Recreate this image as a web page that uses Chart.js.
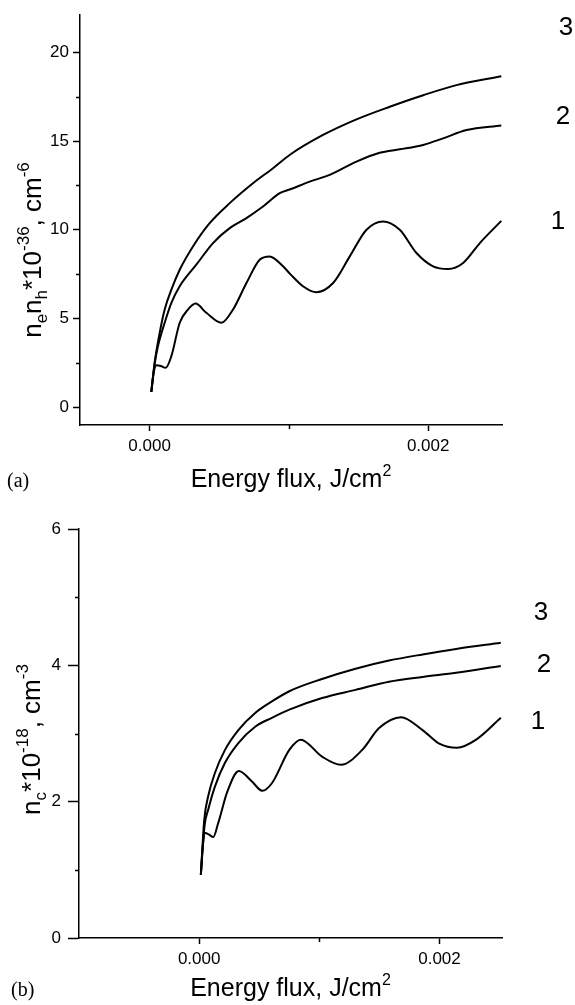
<!DOCTYPE html>
<html lang="en">
<head>
<meta charset="UTF-8">
<title>Carrier density vs energy flux</title>
<script src="https://cdn.jsdelivr.net/npm/chart.js"></script>
<style>
    body { margin: 0; background: #fff; }
    .panel { position: absolute; left: 0; width: 575px; }
    #panelA { top: 0; height: 500px; }
    #panelB { top: 500px; height: 505px; }
</style>
</head>
<body>
<div class="panel" id="panelA"><canvas id="chartA" width="575" height="500"></canvas></div>
<div class="panel" id="panelB"><canvas id="chartB" width="575" height="505"></canvas></div>
<script>
// ---- panel (a): ne*nh, 10^36 cm^-6 ----
const fluxA1 = [0.000012, 0.000030, 0.000050, 0.000080, 0.000115, 0.000156, 0.000216, 0.000276, 0.000330, 0.000407,
                0.000515, 0.000599, 0.000695, 0.000790, 0.000862, 0.000958, 0.001010, 0.001101, 0.001197, 0.001317,
                0.001437, 0.001557, 0.001676, 0.001796, 0.001916, 0.002035, 0.002143, 0.002251, 0.002371, 0.002525];
const densA1 = [0.86, 2.0, 2.36, 2.32, 2.22, 2.88, 4.76, 5.51, 5.84, 5.32,
                4.76, 5.51, 7.00, 8.31, 8.50, 7.94, 7.5, 6.82, 6.48, 7.00,
                8.50, 10.0, 10.47, 10.0, 8.69, 7.94, 7.79, 8.13, 9.25, 10.5];
const fluxA2 = [0.000012, 0.000036, 0.000060, 0.000108, 0.000156, 0.000216, 0.000335, 0.000455, 0.000575, 0.000695,
                0.000814, 0.000934, 0.001010, 0.001149, 0.001293, 0.001485, 0.001652, 0.001796, 0.001964, 0.002107,
                0.002275, 0.002525];
const densA2 = [0.86, 2.45, 3.45, 4.76, 5.88, 6.82, 8.03, 9.25, 10.09, 10.66,
                11.31, 12.06, 12.28, 12.71, 13.09, 13.84, 14.34, 14.53, 14.78, 15.15,
                15.62, 15.88];
const fluxA3 = [0.000012, 0.000036, 0.000072, 0.000108, 0.000156, 0.000216, 0.000311, 0.000431, 0.000575, 0.000742,
                0.000886, 0.001010, 0.001245, 0.001485, 0.001724, 0.001964, 0.002203, 0.002525];
const densA3 = [0.86, 2.51, 4.19, 5.51, 6.63, 7.75, 9.06, 10.37, 11.50, 12.62,
                13.47, 14.24, 15.34, 16.22, 16.93, 17.58, 18.15, 18.65];

// ---- panel (b): nc, 10^18 cm^-3 ----
const fluxB1 = [0.000014, 0.000030, 0.000050, 0.000080, 0.000117, 0.000159, 0.000235, 0.000330, 0.000437, 0.000525,
                0.000605, 0.000750, 0.000845, 0.001023, 0.001180, 0.001357, 0.001497, 0.001680, 0.001859, 0.001998,
                0.002145, 0.002305, 0.002510];
const densB1 = [0.93, 1.35, 1.54, 1.52, 1.48, 1.69, 2.15, 2.45, 2.30, 2.16,
                2.27, 2.76, 2.91, 2.66, 2.54, 2.76, 3.08, 3.24, 3.05, 2.85,
                2.79, 2.91, 3.23];
const fluxB2 = [0.000014, 0.000045, 0.000075, 0.000131, 0.000215, 0.000326, 0.000466, 0.000605, 0.000750, 0.001023,
                0.001301, 0.001580, 0.001859, 0.002138, 0.002510];
const densB2 = [0.93, 1.65, 1.88, 2.22, 2.57, 2.86, 3.10, 3.23, 3.35, 3.52,
                3.64, 3.76, 3.83, 3.89, 3.99];
const fluxB3 = [0.000014, 0.000042, 0.000075, 0.000131, 0.000215, 0.000326, 0.000466, 0.000605, 0.000750, 0.001023,
                0.001301, 0.001580, 0.001859, 0.002138, 0.002510];
const densB3 = [0.93, 1.73, 2.08, 2.42, 2.76, 3.05, 3.30, 3.47, 3.62, 3.80,
                3.95, 4.07, 4.16, 4.24, 4.33];

// ticks (major carry labels, minor are short unlabeled marks)
const fluxTicks = [0, 0.002];
const fluxTickLabels = ['0.000', '0.002'];
const fluxMinor = [0.001];
const yTicksA = [0, 5, 10, 15, 20];
const yMinorA = [2.5, 7.5, 12.5, 17.5];
const yTicksB = [0, 2, 4, 6];
const yMinorB = [1, 3, 5];

// curve numbers and where they sit (value on y axis)
const curveNames = ['1', '2', '3'];
const labelYA = [10.45, 16.35, 21.4];
const labelYB = [3.17, 4.01, 4.77];

const SANS = '"Liberation Sans", Arial, sans-serif';

function toPoints(xs, ys) {
    return xs.map((x, i) => ({ x: x, y: ys[i] }));
}

function curve(xs, ys) {
    return {
        data: toPoints(xs, ys),
        borderColor: '#000',
        borderWidth: 2,
        pointRadius: 0,
        fill: false,
        cubicInterpolationMode: 'monotone'
    };
}

// rich text: segments {t, sub, sup}
function drawRich(ctx, segs, size, x, y, angle) {
    const small = Math.round(size * 0.65);
    const fontOf = s => ((s.sub || s.sup) ? small : size) + 'px ' + SANS;
    let total = 0;
    segs.forEach(s => { ctx.font = fontOf(s); total += ctx.measureText(s.t).width; });
    ctx.save();
    ctx.translate(x, y);
    ctx.rotate(angle);
    ctx.textAlign = 'left';
    ctx.textBaseline = 'alphabetic';
    let cx = -total / 2;
    segs.forEach(s => {
        ctx.font = fontOf(s);
        const dy = s.sub ? size * 0.22 : (s.sup ? -size * 0.45 : 0);
        ctx.fillText(s.t, cx, dy);
        cx += ctx.measureText(s.t).width;
    });
    ctx.restore();
}

const annotate = {
    id: 'annotate',
    afterDraw(chart, args, o) {
        const { ctx, chartArea: a, scales } = chart;
        ctx.save();
        // minor ticks
        ctx.strokeStyle = '#000';
        ctx.lineWidth = 1.5;
        ctx.beginPath();
        o.minorX.forEach(v => {
            const px = Math.round(scales.x.getPixelForValue(v)) + 0.5;
            ctx.moveTo(px, a.bottom);
            ctx.lineTo(px, a.bottom + 4);
        });
        o.minorY.forEach(v => {
            const py = Math.round(scales.y.getPixelForValue(v)) + 0.5;
            ctx.moveTo(a.left - 4, py);
            ctx.lineTo(a.left, py);
        });
        ctx.stroke();

        ctx.fillStyle = '#000';
        drawRich(ctx, o.xTitle, 25, (a.left + a.right) / 2, a.bottom + o.xTitleGap, 0);
        drawRich(ctx, o.yTitle, 26, o.yTitleX, (a.top + a.bottom) / 2 + o.yTitleShift, -Math.PI / 2);
        ctx.font = '20px "Liberation Serif", "Times New Roman", serif';
        ctx.textAlign = 'left';
        ctx.textBaseline = 'alphabetic';
        ctx.fillText(o.tag, o.tagX, a.bottom + o.tagGap);
        ctx.font = '26px ' + SANS;
        ctx.textAlign = 'center';
        ctx.textBaseline = 'middle';
        curveNames.forEach((c, i) => {
            ctx.fillText(c, a.right + o.labelDx[i], scales.y.getPixelForValue(o.labelY[i]));
        });
        ctx.restore();
    }
};

function xAxis(min, max, height) {
    return {
        type: 'linear', min: min, max: max,
        afterBuildTicks: s => { s.ticks = fluxTicks.map(v => ({ value: v })); },
        afterFit: s => { s.height = height; },
        ticks: {
            callback: (v, i) => fluxTickLabels[i],
            font: { family: SANS, size: 17 }, color: '#000',
            padding: 5, autoSkip: false, maxRotation: 0
        },
        grid: { drawOnChartArea: false, drawTicks: true, tickLength: 6, tickColor: '#000', tickWidth: 1.5 },
        border: { color: '#000', width: 1.5 }
    };
}

function yAxis(min, max, ticks, width, tickLen, pad) {
    return {
        type: 'linear', min: min, max: max,
        afterBuildTicks: s => { s.ticks = ticks.map(v => ({ value: v })); },
        afterFit: s => { s.width = width; },
        ticks: {
            callback: v => String(v),
            font: { family: SANS, size: 17 }, color: '#000',
            padding: pad, autoSkip: false
        },
        grid: { drawOnChartArea: false, drawTicks: true, tickLength: tickLen, tickColor: '#000', tickWidth: 1.5 },
        border: { color: '#000', width: 1.5 }
    };
}

const xTitleSegs = [{ t: 'Energy flux, J/cm' }, { t: '2', sup: true }];

new Chart(document.getElementById('chartA'), {
    type: 'line',
    data: { datasets: [curve(fluxA1, densA1), curve(fluxA2, densA2), curve(fluxA3, densA3)] },
    options: {
        responsive: false,
        animation: false,
        layout: { padding: { left: 0, top: 15, right: 73, bottom: 0 } },
        scales: {
            x: xAxis(-0.0005, 0.00253, 75),
            y: yAxis(-1, 22.1, yTicksA, 80, 7, 4)
        },
        plugins: {
            legend: { display: false },
            tooltip: { enabled: false },
            annotate: {
                minorX: fluxMinor, minorY: yMinorA,
                xTitle: xTitleSegs, xTitleGap: 62,
                yTitle: [{ t: 'n' }, { t: 'e', sub: true }, { t: 'n' }, { t: 'h', sub: true }, { t: '*10' },
                         { t: '-36', sup: true }, { t: ', cm' }, { t: '-6', sup: true }],
                yTitleX: 41, yTitleShift: 30,
                tag: '(a)', tagX: 7, tagGap: 62,
                labelY: labelYA, labelDx: [56, 61, 64]
            }
        }
    },
    plugins: [annotate]
});

new Chart(document.getElementById('chartB'), {
    type: 'line',
    data: { datasets: [curve(fluxB1, densB1), curve(fluxB2, densB2), curve(fluxB3, densB3)] },
    options: {
        responsive: false,
        animation: false,
        layout: { padding: { left: 0, top: 29, right: 73, bottom: 0 } },
        scales: {
            x: xAxis(-0.001, 0.00252, 67),
            y: yAxis(0, 6, yTicksB, 79, 11, 7)
        },
        plugins: {
            legend: { display: false },
            tooltip: { enabled: false },
            annotate: {
                minorX: fluxMinor, minorY: yMinorB,
                xTitle: xTitleSegs, xTitleGap: 58,
                yTitle: [{ t: 'n' }, { t: 'c', sub: true }, { t: '*10' }, { t: '-18', sup: true },
                         { t: ', cm' }, { t: '-3', sup: true }],
                yTitleX: 40, yTitleShift: 6,
                tag: '(b)', tagX: 11, tagGap: 58,
                labelY: labelYB, labelDx: [36, 42, 39]
            }
        }
    },
    plugins: [annotate]
});
</script>
</body>
</html>
